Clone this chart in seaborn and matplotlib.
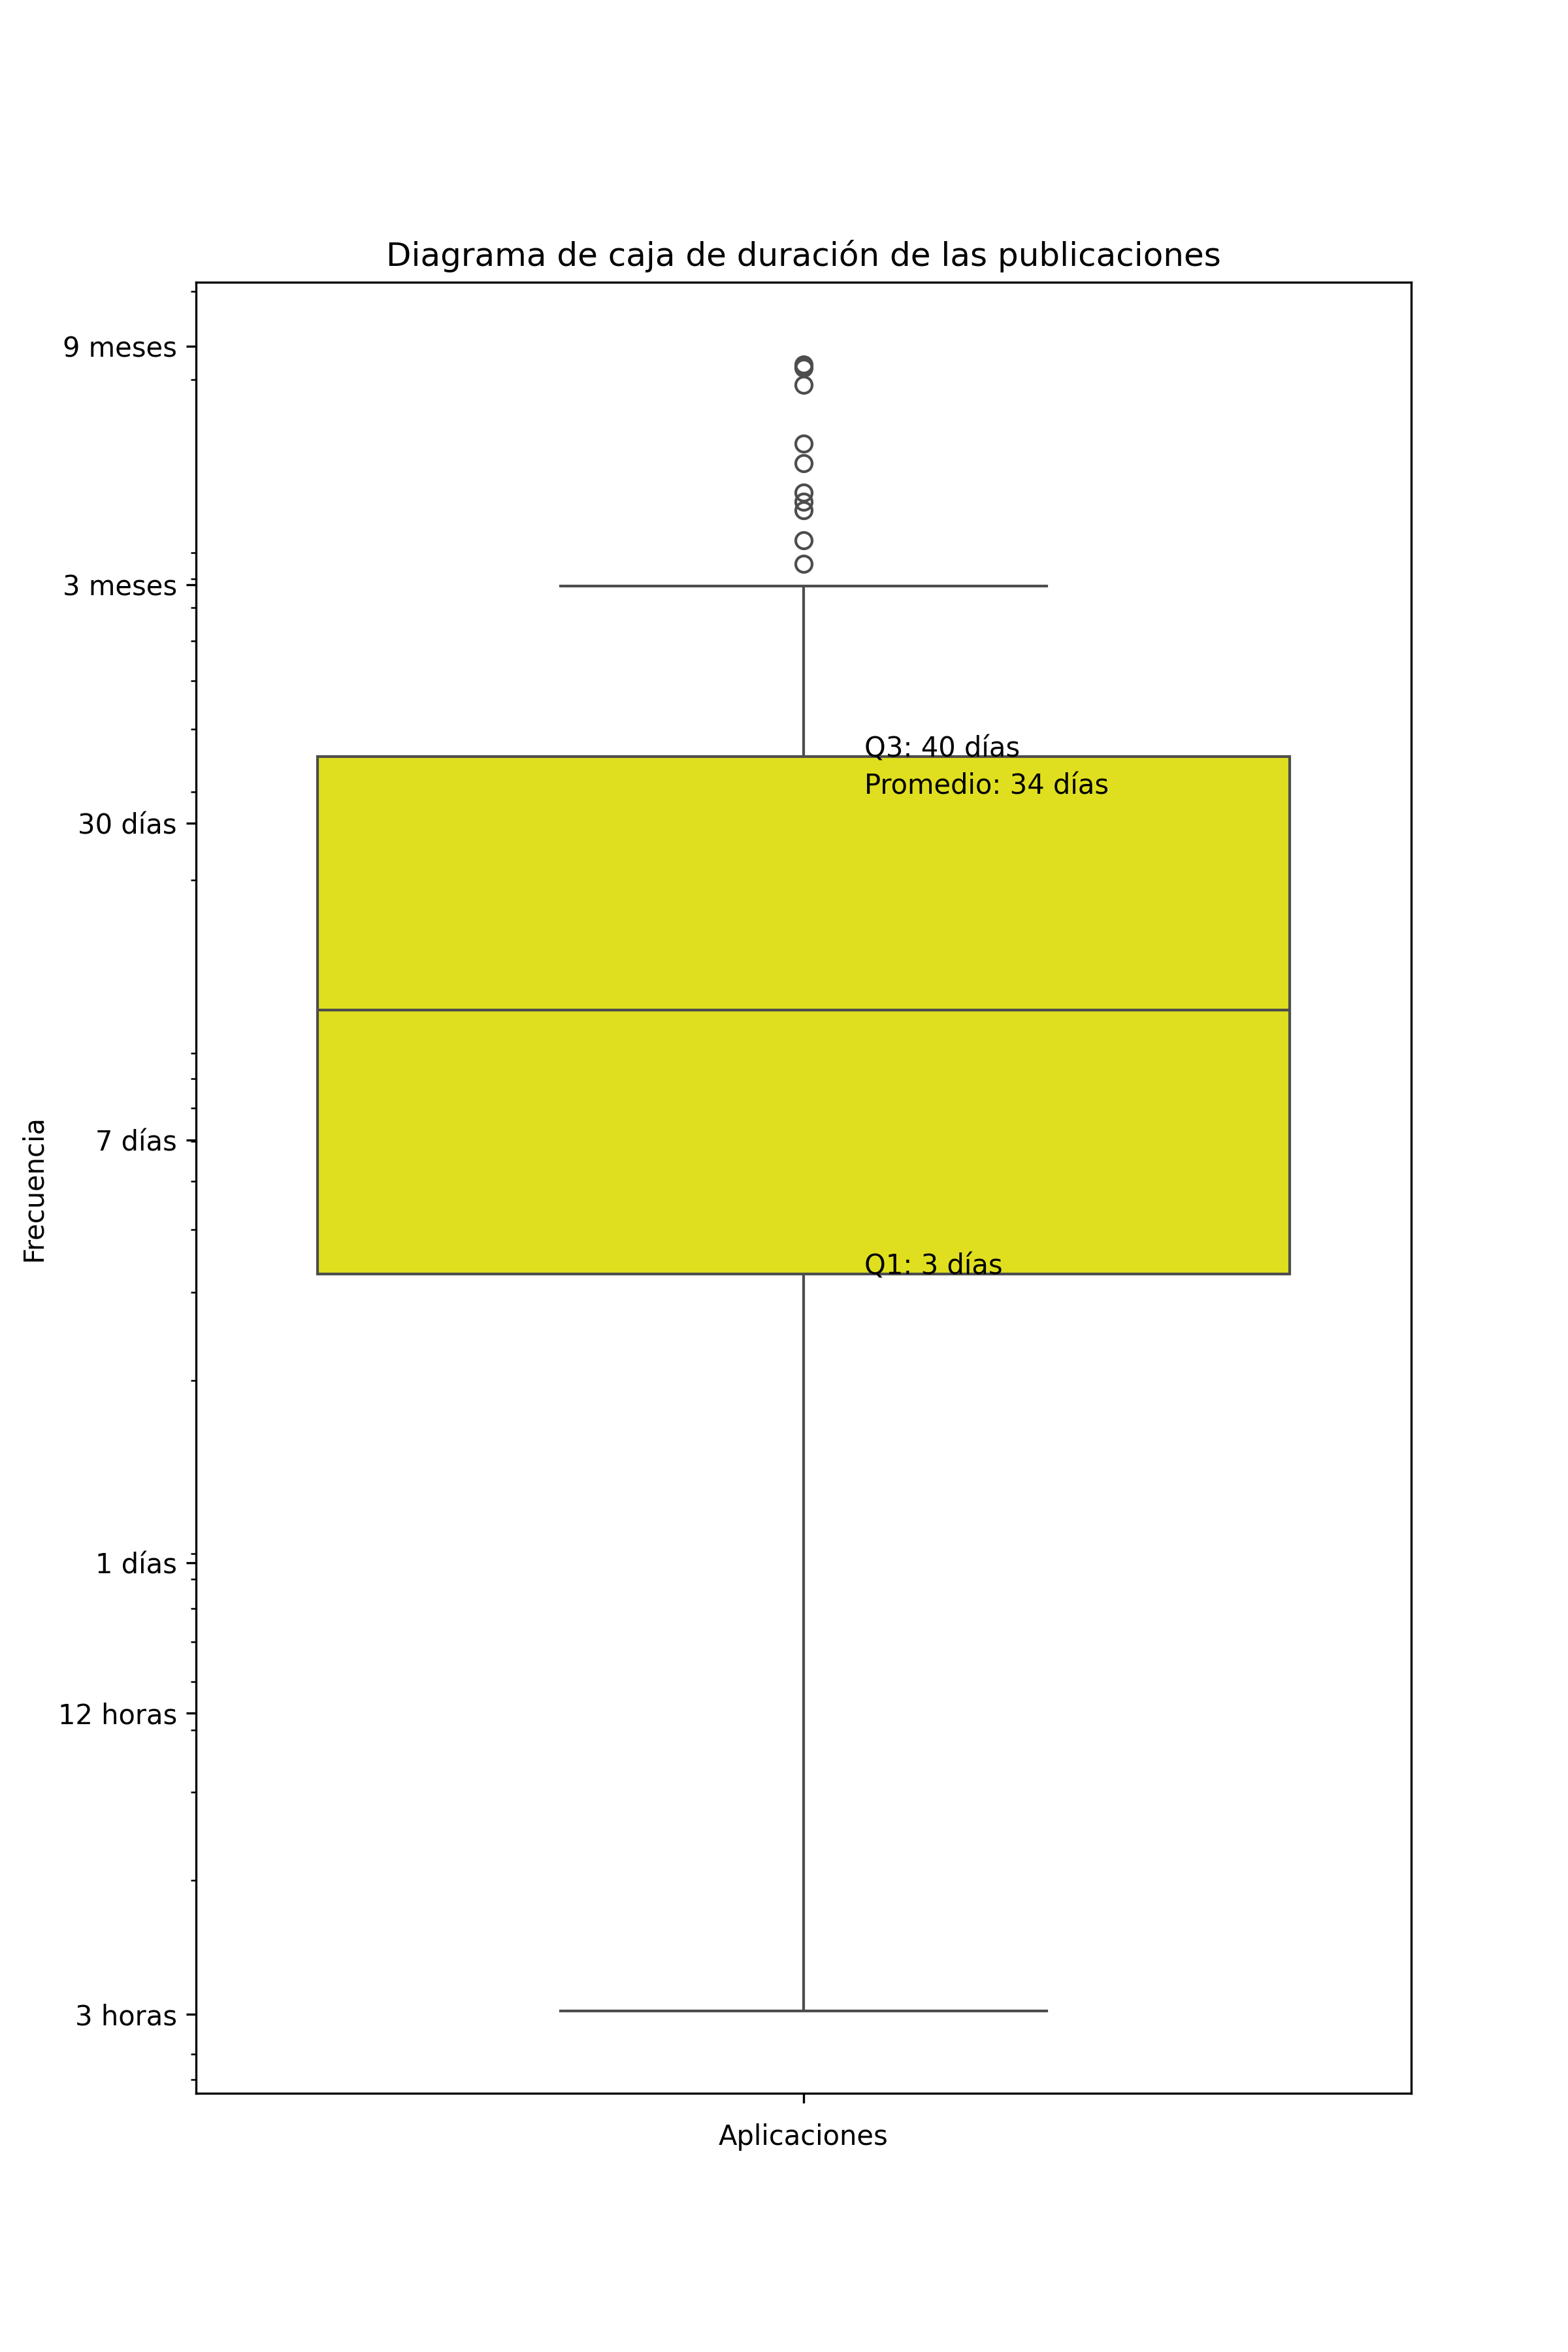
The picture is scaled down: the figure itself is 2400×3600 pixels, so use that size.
import numpy as np
import pandas as pd
import matplotlib
matplotlib.use("Agg")
import matplotlib.pyplot as plt
import seaborn as sns

# duraciones de las publicaciones, en días
bajo_q1 = [0.127, 0.15, 0.2, 0.25, 0.33, 0.4, 0.5, 0.6, 0.75, 0.9,
           1.0, 1.1, 1.3, 1.5, 1.7, 1.9, 2.0, 2.2, 2.4, 2.6,
           2.8, 3.0, 3.2, 3.4, 3.6]
q1_dias = [3.77]
q1_a_mediana = [3.9, 4.0, 4.2, 4.5, 4.8, 5.0, 5.2, 5.5, 5.8, 6.0,
                6.3, 6.7, 7.0, 7.3, 7.7, 8.0, 8.5, 9.0, 9.5, 10.0,
                10.5, 11.0, 11.6, 12.2]
mediana_dias = [12.7]
mediana_a_q3 = [13.2, 14.0, 14.8, 15.5, 16.3, 17.0, 18.0, 19.0, 20.0, 21.0,
                22.0, 23.5, 25.0, 26.0, 27.5, 29.0, 30.0, 31.5, 33.0, 34.5,
                36.0, 37.5, 39.0, 40.3]
q3_dias = [40.8]
sobre_q3 = [42.0, 42.5, 43.0, 43.5, 44.0, 45.0, 45.5, 46.0, 47.0, 48.0,
            50.0, 52.0, 60.0, 89.4]
atipicos = [99.0, 110.5, 127.0, 132.0, 137.5, 157.5, 172.5, 226.0,
            244.5, 246.0, 248.0]

# marcas del eje y
tick_segundos = [3 * 3600, 12 * 3600, 86400, 7 * 86400, 30 * 86400,
                 90 * 86400, 270 * 86400]
tick_etiquetas = ["3 horas", "12 horas", "1 días", "7 días", "30 días",
                  "3 meses", "9 meses"]

dias = np.array(bajo_q1 + q1_dias + q1_a_mediana + mediana_dias
                + mediana_a_q3 + q3_dias + sobre_q3 + atipicos)
df = pd.DataFrame({"duracion": dias * 86400})

q1, q3 = np.percentile(df["duracion"], [25, 75])
promedio = df["duracion"].mean()

plt.figure(figsize=(8, 12))
ax = sns.boxplot(y=df["duracion"], color="yellow")
ax.set_yscale("log")
ax.set_yticks(tick_segundos)
ax.set_yticklabels(tick_etiquetas)

ax.text(0.05, q3, f"Q3: {int(q3 / 86400)} días")
ax.text(0.05, promedio, f"Promedio: {int(promedio / 86400)} días")
ax.text(0.05, q1, f"Q1: {int(q1 / 86400)} días")

plt.title("Diagrama de caja de duración de las publicaciones")
plt.xlabel("Aplicaciones")
plt.ylabel("Frecuencia")
plt.savefig("out.png", dpi=300)
